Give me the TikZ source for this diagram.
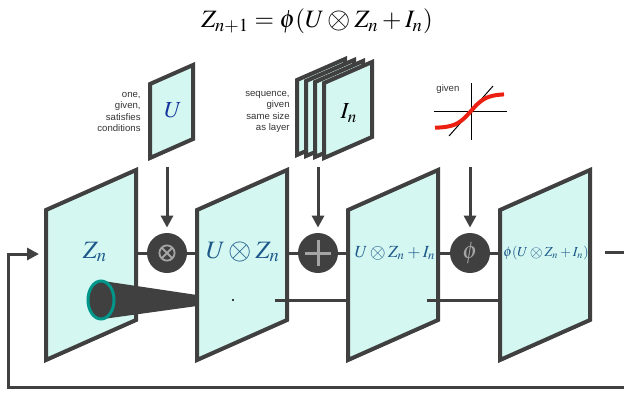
\documentclass[tikz,border=0pt]{standalone}
\usepackage{mathptmx}
\usepackage{fontspec}
\setsansfont{Liberation Sans}
\usetikzlibrary{arrows.meta}

\definecolor{panelfill}{RGB}{212,247,241}
\definecolor{edgegray}{RGB}{64,64,64}
\definecolor{labelblue}{RGB}{28,88,138}
\definecolor{ublue}{RGB}{22,52,158}
\definecolor{coneteal}{RGB}{0,150,138}
\definecolor{opgray}{RGB}{165,165,165}
\definecolor{sigred}{RGB}{236,32,18}

% bigger circled times, as in the figure
\newcommand\otbig{\mathbin{\vcenter{\hbox{\scalebox{1.2}{$\otimes$}}}}}

\begin{document}
\begin{tikzpicture}[
  x=0.5pt, y=-0.5pt,
  layer/.style={draw=edgegray, fill=panelfill, line width=2pt, line join=miter},
  op/.style={circle, fill=edgegray, minimum size=20pt, inner sep=0pt},
  feed/.style={draw=edgegray, line width=1.5pt, -{Triangle[length=6pt, width=6pt]}},
  link/.style={draw=edgegray, line width=1.5pt},
  note/.style={font=\sffamily\fontsize{4.8}{5.75}\selectfont, text=black!80, align=right, inner sep=0pt},
  lbl/.style={text=labelblue, inner sep=0pt}
]
\useasboundingbox (0,0) rectangle (624,392);

% Recurrence on top
\node[font=\fontsize{12.5}{15}\selectfont, inner sep=0pt] (eq) at (317,21) {$Z_{n+1} = \phi(U \otbig Z_n + I_n)$};

% Inputs: weight, input sequence, activation
\node[note, anchor=east] (unote) at (141,112) {one,\\given,\\satisfies\\conditions};
\draw[layer] (150,84) -- (193,65) -- (193,139) -- (150,158) -- cycle;
\node[text=ublue, font=\fontsize{11.5}{13}\selectfont] (u) at (173,110) {$U$};

\node[note, anchor=east] (inote) at (290,112) {sequence,\\given\\same size\\as layer};
\draw[layer] (297,80) -- (345,59) -- (345,134) -- (297,155) -- cycle;
\draw[layer] (306,81) -- (354,60) -- (354,135) -- (306,156) -- cycle;
\draw[layer] (315,82) -- (363,61) -- (363,136) -- (315,157) -- cycle;
\draw[layer] (324,83) -- (372,62) -- (372,137) -- (324,158) -- cycle;
\node[font=\fontsize{11.5}{13}\selectfont] (in) at (349,113) {$I_n$};

\node[note, anchor=west] (fnote) at (436,89) {given};
\draw[line width=0.5pt] (471,83) -- (471,140);
\draw[line width=0.5pt] (434,111) -- (507,111);
\draw[line width=0.5pt] (449,136) -- (493,86);
\draw[sigred, line width=2pt] plot[domain=435:504, samples=40, smooth] (\x, {111-17*tanh((\x-471)/15)});

% Layers
\draw[layer] (46,210) -- (136,170) -- (136,320) -- (46,360) -- cycle;
\node[lbl, font=\fontsize{12.5}{14}\selectfont] (zn) at (95,252) {$Z_n$};

% receptive field cone
\fill[edgegray] (103,281) -- (197,295) -- (197,306) -- (103,319) -- cycle;
\draw[coneteal, fill=edgegray, line width=1.5pt] (101,300) ellipse [x radius=13, y radius=19];

\draw[layer] (197,210) -- (287,170) -- (287,320) -- (197,360) -- cycle;
\node[lbl, font=\fontsize{12.5}{14}\selectfont] (uz) at (243,252) {$U \otbig Z_n$};
\fill (233,300) circle (1.2);

\draw[layer] (348,210) -- (438,170) -- (438,320) -- (348,360) -- cycle;
\node[lbl, font=\fontsize{8.5}{10}\selectfont] (sum) at (395,253) {$U \otbig Z_n + I_n$};

\draw[layer] (500,210) -- (590,170) -- (590,320) -- (500,360) -- cycle;
\node[lbl, font=\fontsize{6.9}{8}\selectfont] (act) at (546,253) {$\phi(U \otbig Z_n + I_n)$};

% Edge points
\coordinate (z-in) at (46,254);
\coordinate (z-r) at (136,253);
\coordinate (uz-l) at (197,253);
\coordinate (uz-r) at (287,253);
\coordinate (sum-l) at (348,253);
\coordinate (sum-r) at (438,253);
\coordinate (act-l) at (500,253);
\coordinate (uz-tap) at (275,300);
\coordinate (sum-low) at (348,300);
\coordinate (sum-tap) at (427,300);
\coordinate (act-low) at (500,300);
\coordinate (out-a) at (605,252);
\coordinate (out-b) at (624,252);
\coordinate (ret) at (624,387);
\coordinate (u-out) at (167,167);
\coordinate (in-out) at (318,167);
\coordinate (f-out) at (470,167);

% Operators
\node[op] (mul) at (167,253) {};
\draw[opgray, line width=0.9pt] (mul.center) circle (3.8pt);
\draw[opgray, line width=0.9pt] ([shift={(-2.7pt,-2.7pt)}]mul.center) -- ([shift={(2.7pt,2.7pt)}]mul.center);
\draw[opgray, line width=0.9pt] ([shift={(-2.7pt,2.7pt)}]mul.center) -- ([shift={(2.7pt,-2.7pt)}]mul.center);
\node[op] (add) at (318,253) {};
\draw[opgray, line width=1.5pt] ([xshift=-6.5pt]add.center) -- ([xshift=6.5pt]add.center);
\draw[opgray, line width=1.5pt] ([yshift=-6.5pt]add.center) -- ([yshift=6.5pt]add.center);
\node[op] (phi) at (470,253) {};
\node[text=opgray, font=\fontsize{12}{14}\selectfont] at (phi) {$\phi$};

% Connectors
\draw[feed, shorten >=2.5pt] (u-out) -- (mul);
\draw[feed, shorten >=2.5pt] (in-out) -- (add);
\draw[feed, shorten >=2.5pt] (f-out) -- (phi);
\draw[link] (z-r) -- (mul) -- (uz-l);
\draw[link] (uz-r) -- (add) -- (sum-l);
\draw[link] (sum-r) -- (phi) -- (act-l);
\draw[link] (uz-tap) -- (sum-low);
\draw[link] (sum-tap) -- (act-low);
\draw[link] (out-a) -- (out-b);
\draw[feed, shorten >=3.5pt] (ret) -- (8,387) -- (8,254) -- (z-in);
\end{tikzpicture}
\end{document}
